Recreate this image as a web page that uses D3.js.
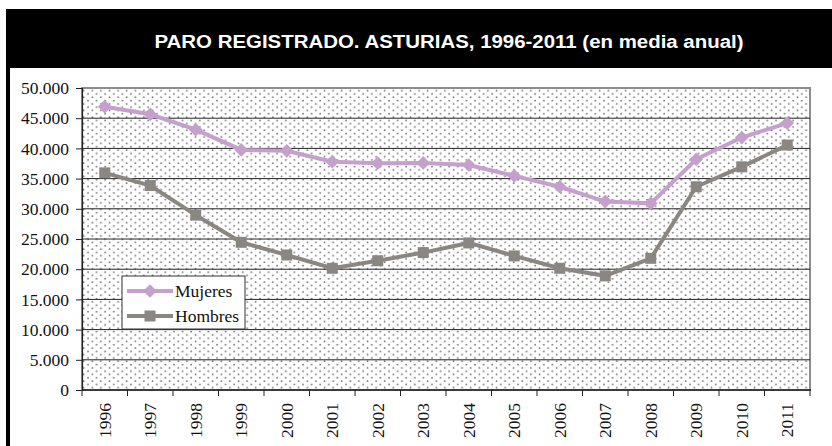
<!DOCTYPE html>
<html lang="es">
<head>
<meta charset="utf-8">
<script src="https://d3js.org/d3.v7.min.js"></script>
<title>Paro registrado Asturias</title>
<style>
  body { margin: 0; background: #fff; }
  svg { display: block; }
</style>
</head>
<body>
<div id="chart"></div>
<script>
var years = ["1996","1997","1998","1999","2000","2001","2002","2003","2004","2005","2006","2007","2008","2009","2010","2011"];
var mujeres = [46900, 45650, 43100, 39750, 39600, 37800, 37550, 37600, 37250, 35450, 33650, 31200, 30900, 38200, 41800, 44200];
var hombres = [35950, 33850, 28950, 24450, 22350, 20150, 21400, 22750, 24350, 22200, 20150, 18900, 21800, 33650, 36950, 40550];
var yTicks = [0, 5000, 10000, 15000, 20000, 25000, 30000, 35000, 40000, 45000, 50000];

var W = 832, H = 446;
var plot = {left: 82, right: 810, top: 88, bottom: 390};

var svg = d3.select("#chart").append("svg")
    .attr("width", W).attr("height", H);

// black frame: title band + left bar
svg.append("rect").attr("x", 6).attr("y", 9).attr("width", W - 6).attr("height", 59).attr("fill", "#000");
svg.append("rect").attr("x", 6).attr("y", 9).attr("width", 4).attr("height", H - 9).attr("fill", "#000");

svg.append("text")
    .attr("x", 449).attr("y", 48)
    .attr("text-anchor", "middle")
    .attr("fill", "#fff")
    .attr("textLength", 589).attr("lengthAdjust", "spacingAndGlyphs")
    .style("font-family", "'Liberation Sans', Arial, sans-serif")
    .style("font-weight", "bold")
    .style("font-size", "18px")
    .text("PARO REGISTRADO. ASTURIAS, 1996-2011 (en media anual)");

// dotted fill pattern
var defs = svg.append("defs");
var pat = defs.append("pattern").attr("id", "dots")
    .attr("patternUnits", "userSpaceOnUse")
    .attr("width", 8.6).attr("height", 6.6);
pat.append("rect").attr("width", 8.6).attr("height", 6.6).attr("fill", "#fff");
pat.append("circle").attr("cx", 2).attr("cy", 1.6).attr("r", 0.85).attr("fill", "#666");
pat.append("circle").attr("cx", 6.3).attr("cy", 4.9).attr("r", 0.85).attr("fill", "#666");

var x = d3.scaleBand().domain(years).range([plot.left, plot.right]).padding(0);
var y = d3.scaleLinear().domain([0, 50000]).range([plot.bottom, plot.top]);

svg.append("rect")
    .attr("x", plot.left).attr("y", plot.top)
    .attr("width", plot.right - plot.left).attr("height", plot.bottom - plot.top)
    .attr("fill", "url(#dots)")
    .attr("stroke", "#8c8c8c").attr("stroke-width", 2);

// gridlines
svg.append("g").selectAll("line")
    .data(yTicks.filter(function(d){ return d > 0 && d < 50000; }))
    .enter().append("line")
    .attr("x1", plot.left).attr("x2", plot.right)
    .attr("y1", function(d){ return y(d); }).attr("y2", function(d){ return y(d); })
    .attr("stroke", "#222").attr("stroke-width", 1);

var serif = "'Liberation Serif', 'Times New Roman', serif";
var fs = "17.5px";

// y axis
var yAxis = svg.append("g")
    .attr("transform", "translate(" + plot.left + ",0)")
    .call(d3.axisLeft(y).tickValues(yTicks).tickSize(6).tickPadding(7)
        .tickFormat(function(d){ return d3.format(",")(d).replace(/,/g, "."); }));
yAxis.select(".domain").attr("stroke", "#222").attr("stroke-width", 1.2);
yAxis.selectAll(".tick line").attr("stroke", "#222");
yAxis.selectAll("text").style("font-family", serif).style("font-size", fs).attr("fill", "#111");

// x axis with ticks at category boundaries
var xg = svg.append("g").attr("transform", "translate(0," + plot.bottom + ")");
xg.append("line").attr("x1", plot.left).attr("x2", plot.right + 1).attr("y1", 0).attr("y2", 0)
    .attr("stroke", "#222").attr("stroke-width", 1.5);
xg.selectAll(".bt").data(years).enter().append("line")
    .attr("x1", function(d){ return x(d); }).attr("x2", function(d){ return x(d); })
    .attr("y1", 0).attr("y2", 6).attr("stroke", "#222");
xg.append("line").attr("x1", plot.right).attr("x2", plot.right).attr("y1", 0).attr("y2", 6).attr("stroke", "#222");
xg.selectAll(".lbl").data(years).enter().append("text")
    .attr("transform", function(d){ return "translate(" + (x(d) + x.bandwidth() / 2 + 6) + ",13) rotate(-90)"; })
    .attr("text-anchor", "end")
    .style("font-family", serif).style("font-size", fs).attr("fill", "#111")
    .text(function(d){ return d; });

var cx = function(d, i){ return x(years[i]) + x.bandwidth() / 2; };
var line = d3.line().x(function(d, i){ return cx(d, i); }).y(function(d){ return y(d); });

var colM = "#c6a0cc", colH = "#8a8782";

svg.append("path").datum(hombres).attr("d", line)
    .attr("fill", "none").attr("stroke", colH).attr("stroke-width", 4);
svg.append("g").selectAll("rect").data(hombres).enter().append("rect")
    .attr("x", function(d, i){ return cx(d, i) - 5.5; })
    .attr("y", function(d){ return y(d) - 5.5; })
    .attr("width", 11).attr("height", 11).attr("fill", colH);

svg.append("path").datum(mujeres).attr("d", line)
    .attr("fill", "none").attr("stroke", colM).attr("stroke-width", 4);
var diamond = d3.symbol().type(d3.symbolDiamond2).size(120);
svg.append("g").selectAll("path").data(mujeres).enter().append("path")
    .attr("d", diamond)
    .attr("transform", function(d, i){ return "translate(" + cx(d, i) + "," + y(d) + ")"; })
    .attr("fill", colM);

// legend
var lg = svg.append("g").attr("transform", "translate(122,276)");
lg.append("rect").attr("width", 123).attr("height", 53).attr("fill", "#fff").attr("stroke", "#333").attr("stroke-width", 1);
var entries = [{name: "Mujeres", col: colM, type: "d"}, {name: "Hombres", col: colH, type: "s"}];
entries.forEach(function(e, i){
    var yy = 15 + i * 25;
    lg.append("line").attr("x1", 5).attr("x2", 51).attr("y1", yy).attr("y2", yy)
        .attr("stroke", e.col).attr("stroke-width", 4);
    if (e.type === "d") {
        lg.append("path").attr("d", diamond).attr("transform", "translate(28," + yy + ")").attr("fill", e.col);
    } else {
        lg.append("rect").attr("x", 22.5).attr("y", yy - 5.5).attr("width", 11).attr("height", 11).attr("fill", e.col);
    }
    lg.append("text").attr("x", 53).attr("y", yy + 6)
        .style("font-family", serif).style("font-size", fs).attr("fill", "#111")
        .text(e.name);
});
</script>
</body>
</html>
